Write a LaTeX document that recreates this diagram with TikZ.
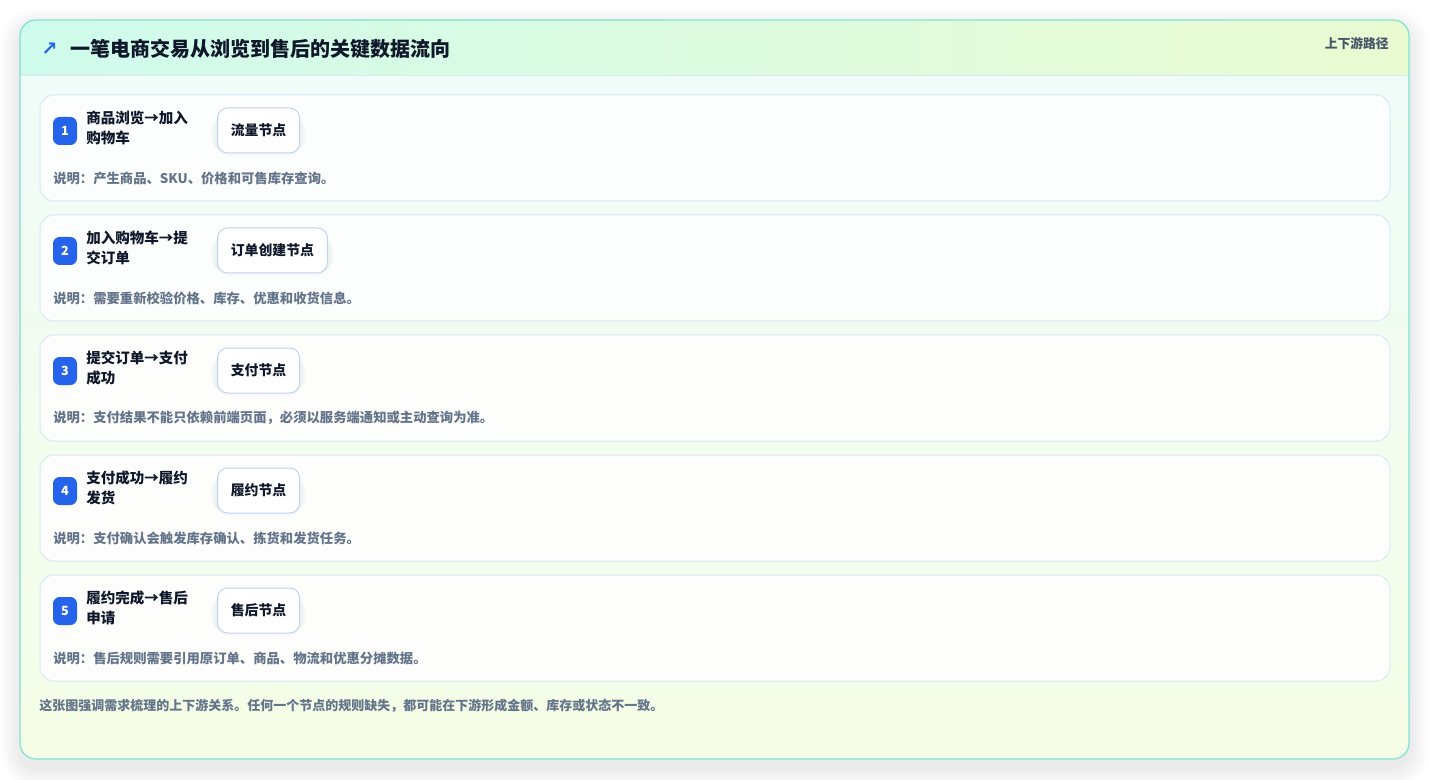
\documentclass[tikz,border=0pt]{standalone}
\usepackage{fontspec}
\setmainfont{Noto Sans CJK SC}
\newfontfamily\symfont{DejaVu Sans}
\definecolor{panelborder}{HTML}{7FE3D2}
\definecolor{hdrL}{HTML}{CFFBEC}
\definecolor{hdrR}{HTML}{EAFBD2}
\definecolor{bodyT}{HTML}{EFFCF9}
\definecolor{bodyB}{HTML}{F5FDE6}
\definecolor{cardborder}{HTML}{D8E8F4}
\definecolor{boxborder}{HTML}{BFD4F2}
\definecolor{badgeblue}{HTML}{2563EB}
\definecolor{titlecol}{HTML}{0F172A}
\definecolor{desccol}{HTML}{64748B}
\definecolor{tagcol}{HTML}{475569}
\tikzset{
  card/.style={draw=cardborder, line width=0.75pt, fill=white, fill opacity=0.85, rounded corners=10.5pt},
  badge/.style={fill=badgeblue, rounded corners=5pt, minimum width=18pt, minimum height=21pt, inner sep=0pt, text=white, font=\bfseries\fontsize{9.5}{10}\selectfont},
  steptitle/.style={anchor=north west, align=left, inner sep=0pt, text=titlecol, font=\bfseries\fontsize{10.9}{15}\selectfont},
  nodebox/.style={draw=boxborder, line width=0.75pt, fill=white, rounded corners=7.5pt, minimum height=33.75pt, inner xsep=10pt, inner ysep=0pt, text=titlecol, font=\bfseries\fontsize{10.4}{12}\selectfont},
  desc/.style={anchor=west, inner sep=0pt, text=desccol, font=\bfseries\fontsize{10}{12}\selectfont},
  shadowlayer/.style={fill=black, fill opacity=0.009},
  panelshadow/.style={fill=black, fill opacity=0.005},
}
\begin{document}
\begin{tikzpicture}[x=0.75pt,y=-0.75pt]
\useasboundingbox (0,0) rectangle (1430,780);
\fill[white] (0,0) rectangle (1430,780);
% panel shadow
\foreach \k in {1,...,20}{
  \fill[panelshadow, rounded corners=12pt+\k*0.75pt] (20-\k,20-\k+8) rectangle (1409+\k,759+\k+8);
}
% panel body
\begin{scope}
\clip[rounded corners=12pt] (20,20) rectangle (1409,759);
\shade[top color=bodyT, bottom color=bodyB] (20,20) rectangle (1409,759);
\shade[left color=hdrL, right color=hdrR] (20,20) rectangle (1409,75);
\draw[draw=cardborder, line width=0.75pt] (20,75.5) -- (1409,75.5);
\end{scope}
\draw[panelborder, line width=0.9pt, rounded corners=12pt] (20,20) rectangle (1409,759);
% header
\node[anchor=west, inner sep=0pt, text=badgeblue, font=\symfont\bfseries\fontsize{14.5}{16}\selectfont] (arrow) at (41,49) {↗};
\node[anchor=west, inner sep=0pt, text=titlecol, font=\bfseries\fontsize{15}{18}\selectfont] (title) at (70,49) {一笔电商交易从浏览到售后的关键数据流向};
\node[anchor=east, inner sep=0pt, text=tagcol, font=\bfseries\fontsize{9.6}{11}\selectfont] (tag) at (1389,44) {上下游路径};
% cards
\foreach \i/\ta/\tb/\nd/\ds in {
 1/商品浏览→加入/购物车/流量节点/说明：产生商品、SKU、价格和可售库存查询。,
 2/加入购物车→提/交订单/订单创建节点/说明：需要重新校验价格、库存、优惠和收货信息。,
 3/提交订单→支付/成功/支付节点/说明：支付结果不能只依赖前端页面，必须以服务端通知或主动查询为准。,
 4/支付成功→履约/发货/履约节点/说明：支付确认会触发库存确认、拣货和发货任务。,
 5/履约完成→售后/申请/售后节点/说明：售后规则需要引用原订单、商品、物流和优惠分摊数据。}{
  \pgfmathsetmacro{\top}{95+120*(\i-1)}
  \path[card] (40,\top) rectangle (1390,\top+106);
  \node[badge] (badge\i) at (65,\top+36) {\i};
  \node[steptitle] (st\i) at (86,\top+16) {\ta\\\tb};
  \node[nodebox, anchor=west, opacity=0] (nbg\i) at (217,\top+35.5) {\nd};
  \foreach \k in {1,...,7}{
    \fill[shadowlayer, rounded corners=7.5pt+\k*0.75pt] ([xshift=-\k*0.75pt, yshift=-\k*0.75pt-3pt]nbg\i.north west) rectangle ([xshift=\k*0.75pt, yshift=\k*0.75pt-3pt]nbg\i.south east);
  }
  \node[nodebox, anchor=west] (nb\i) at (217,\top+35.5) {\nd};
  \node[desc] (ds\i) at (53,\top+83) {\ds};
}
% footer
\node[desc, font=\bfseries\fontsize{9.75}{12}\selectfont] (footer) at (39,706) {这张图强调需求梳理的上下游关系。任何一个节点的规则缺失，都可能在下游形成金额、库存或状态不一致。};
\end{tikzpicture}
\end{document}
